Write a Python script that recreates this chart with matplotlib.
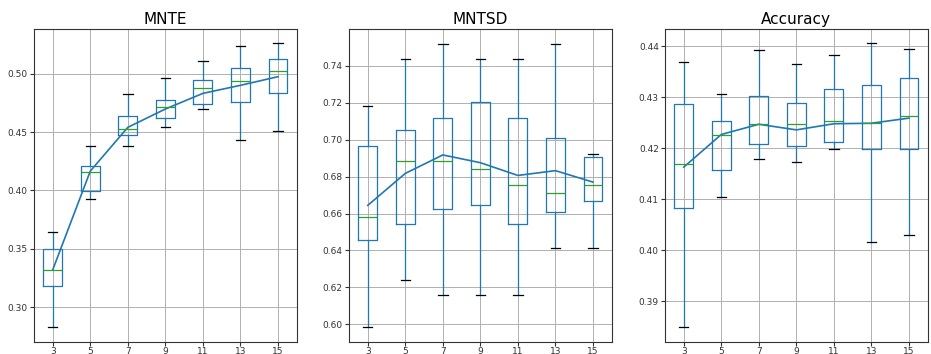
import matplotlib
matplotlib.use("Agg")
import matplotlib.pyplot as plt

ks = [3, 5, 7, 9, 11, 13, 15]

# box stats: whisker low, q1, median, q3, whisker high, mean
mnte_lo = [0.2826, 0.3923, 0.4377, 0.4543, 0.4694, 0.4431, 0.4506]
mnte_q1 = [0.3180, 0.3991, 0.4471, 0.4617, 0.4737, 0.4757, 0.4834]
mnte_med = [0.3317, 0.4154, 0.4523, 0.4711, 0.4880, 0.4940, 0.5020]
mnte_q3 = [0.3500, 0.4211, 0.4640, 0.4777, 0.4949, 0.5051, 0.5123]
mnte_hi = [0.3643, 0.4377, 0.4829, 0.4966, 0.5111, 0.5234, 0.5260]
mnte_mean = [0.3320, 0.4165, 0.4540, 0.4697, 0.4831, 0.4900, 0.4974]

mntsd_lo = [0.5984, 0.6240, 0.6157, 0.6157, 0.6157, 0.6411, 0.6411]
mntsd_q1 = [0.6455, 0.6541, 0.6626, 0.6646, 0.6541, 0.6606, 0.6666]
mntsd_med = [0.6581, 0.6882, 0.6882, 0.6839, 0.6755, 0.6709, 0.6755]
mntsd_q3 = [0.6967, 0.7052, 0.7115, 0.7202, 0.7115, 0.7010, 0.6904]
mntsd_hi = [0.7180, 0.7436, 0.7519, 0.7436, 0.7436, 0.7519, 0.6924]
mntsd_mean = [0.6644, 0.6817, 0.6917, 0.6875, 0.6806, 0.6832, 0.6770]

acc_lo = [0.3849, 0.4104, 0.4178, 0.4174, 0.4198, 0.4017, 0.4030]
acc_q1 = [0.4082, 0.4157, 0.4209, 0.4205, 0.4212, 0.4198, 0.4199]
acc_med = [0.4169, 0.4225, 0.4248, 0.4248, 0.4254, 0.4250, 0.4264]
acc_q3 = [0.4286, 0.4254, 0.4303, 0.4288, 0.4316, 0.4324, 0.4337]
acc_hi = [0.4369, 0.4307, 0.4392, 0.4366, 0.4383, 0.4406, 0.4395]
acc_mean = [0.4163, 0.4227, 0.4247, 0.4236, 0.4248, 0.4249, 0.4259]

panels = [
    ("MNTE", mnte_lo, mnte_q1, mnte_med, mnte_q3, mnte_hi, mnte_mean, (0.2703, 0.538)),
    ("MNTSD", mntsd_lo, mntsd_q1, mntsd_med, mntsd_q3, mntsd_hi, mntsd_mean, (0.5906, 0.7597)),
    ("Accuracy", acc_lo, acc_q1, acc_med, acc_q3, acc_hi, acc_mean, (0.3821, 0.4433)),
]

fig = plt.figure(figsize=(9.31, 3.54), dpi=100)
lefts = [34, 349, 665]
for (title, lo, q1, med, q3, hi, mean, ylim), left in zip(panels, lefts):
    ax = fig.add_axes([left / 931, 0.0347, 262.7 / 931, 0.8825])
    stats = []
    for i, k in enumerate(ks):
        stats.append(dict(label=str(k), whislo=lo[i], q1=q1[i], med=med[i],
                          q3=q3[i], whishi=hi[i], fliers=[]))
    pos = list(range(1, len(ks) + 1))
    ax.bxp(stats, positions=pos, widths=0.5, showfliers=False,
           boxprops=dict(color="#1f77b4", lw=0.9),
           whiskerprops=dict(color="#1f77b4", lw=0.9),
           medianprops=dict(color="#2ca02c", lw=0.9),
           capprops=dict(color="k", lw=0.9))
    ax.plot(pos, mean, color="#1f77b4", lw=1.2)
    ax.set_xlim(0.5, 7.5)
    ax.set_ylim(*ylim)
    ax.grid(True, color="#b0b0b0", lw=0.7)
    ax.set_axisbelow(True)
    ax.set_title(title, fontsize=11, pad=4)
    ax.tick_params(labelsize=6.5, length=3, pad=1.5, colors="#333333")
    ax.tick_params(axis="x", pad=0.5)
    for s in ax.spines.values():
        s.set_color("#333333")

fig.savefig("out.png", dpi=100)
